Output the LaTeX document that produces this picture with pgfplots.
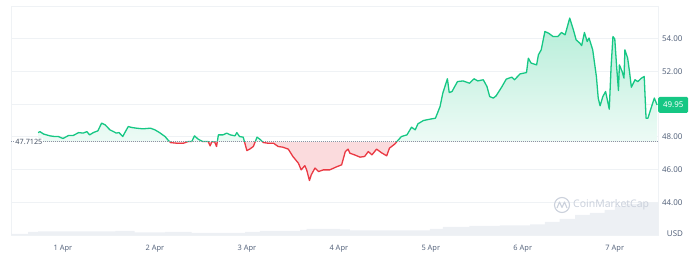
\documentclass[border=0pt]{standalone}
\usepackage{fontspec}
\setmainfont{Noto Sans}
\usepackage{pgfplots}
\usepackage{pgfplotstable}
\pgfplotsset{compat=1.18}
\definecolor{cmcgreen}{HTML}{16C784}
\definecolor{cmcred}{HTML}{EA3943}
\definecolor{labelgray}{HTML}{58667E}
\definecolor{gridgray}{HTML}{EFF2F5}
\definecolor{volgray}{HTML}{EDF0F4}
\definecolor{wmgray}{HTML}{CBD1DC}

\pgfplotstableread{
x y
0.73 48.26
0.75 48.32
0.79 48.17
0.86 48.06
0.91 48.02
0.95 48.02
1.00 47.90
1.06 48.08
1.11 48.08
1.17 48.26
1.22 48.23
1.26 48.32
1.29 48.12
1.33 48.26
1.38 48.37
1.42 48.84
1.46 48.73
1.51 48.43
1.55 48.32
1.58 48.23
1.61 48.26
1.65 48.02
1.67 48.23
1.71 48.63
1.75 48.57
1.80 48.53
1.87 48.49
1.95 48.53
2.00 48.43
2.05 48.26
2.11 48.02
2.14 47.82
2.17 47.65
2.24 47.61
2.31 47.61
2.36 47.71
2.40 47.71
2.43 48.06
2.47 47.86
2.52 47.71
2.58 47.71
2.60 47.45
2.62 47.71
2.65 47.68
2.67 47.41
2.69 48.12
2.74 48.12
2.78 48.23
2.82 48.12
2.87 48.06
2.89 48.26
2.92 48.02
2.96 47.98
3.00 47.16
3.03 47.25
3.07 47.41
3.11 47.98
3.14 47.86
3.18 47.65
3.23 47.61
3.29 47.61
3.34 47.41
3.39 47.37
3.45 47.25
3.50 46.80
3.56 46.39
3.59 45.98
3.63 46.24
3.65 45.98
3.68 45.33
3.70 45.68
3.74 46.09
3.78 45.88
3.83 45.98
3.90 45.98
3.98 46.18
4.03 46.29
4.07 47.10
4.10 47.25
4.12 47.00
4.17 46.90
4.23 46.76
4.28 46.80
4.32 47.10
4.36 46.90
4.41 47.25
4.46 47.04
4.52 46.84
4.55 47.31
4.61 47.57
4.64 47.77
4.68 48.02
4.74 48.12
4.79 48.59
4.83 48.43
4.86 48.80
4.92 49.00
4.99 49.08
5.05 49.14
5.10 49.85
5.13 50.67
5.18 51.55
5.20 50.71
5.23 50.77
5.26 51.08
5.29 51.38
5.35 51.42
5.42 51.28
5.47 51.55
5.51 51.42
5.57 51.49
5.61 51.08
5.64 50.46
5.68 50.37
5.71 50.51
5.77 51.04
5.82 51.53
5.88 51.65
5.91 51.49
5.97 51.85
6.04 51.93
6.06 52.81
6.09 52.51
6.15 52.40
6.17 53.02
6.20 53.32
6.24 54.44
6.28 54.34
6.33 54.13
6.38 54.13
6.42 54.38
6.46 54.24
6.51 55.26
6.55 54.54
6.58 53.93
6.62 53.73
6.64 53.58
6.67 54.38
6.70 53.83
6.72 54.04
6.76 53.32
6.80 51.69
6.82 50.37
6.84 49.90
6.87 50.46
6.90 50.77
6.94 49.69
6.96 52.30
6.98 54.13
7.00 53.98
7.02 52.30
7.04 50.83
7.05 52.40
7.08 51.99
7.10 51.59
7.11 53.32
7.14 52.81
7.16 51.99
7.18 51.04
7.22 51.49
7.25 51.38
7.29 51.59
7.32 51.69
7.34 49.14
7.36 49.14
7.40 49.85
7.43 50.37
7.46 49.95
}\price

\pgfplotstableread{
x v
0.435 1
0.62 3
0.73 3.5
1.57 4
1.78 2.5
2.11 3
2.40 2
2.65 2
2.98 3
3.14 4
3.58 5
3.65 6
4.01 5.5
4.12 4.5
4.45 4.5
4.99 6
5.13 8
5.42 9
5.75 9.5
6.08 10.5
6.24 13
6.40 16
6.57 20
6.73 22
6.89 25
7.00 29
7.11 31
7.27 32
7.47 32
}\volume

\begin{document}
\begin{tikzpicture}
\useasboundingbox (0,0) rectangle (700bp,264bp);
\pgfplotsset{base/.style={scale only axis, width=647bp, xmin=0.435, xmax=7.47, anchor=south west}}
% main axis: grid, ticks
\begin{axis}[base, at={(11bp,29bp)}, height=229bp, ymin=42, ymax=56,
  axis line style={draw=gridgray, line width=0.8bp},
  ytick={44,46,48,50,52,54}, yticklabels={44.00,46.00,48.00,{},52.00,54.00},
  ytick pos=right, yticklabel pos=right,
  xtick={1,2,3,4,5,6,7}, xticklabels={1 Apr,2 Apr,3 Apr,4 Apr,5 Apr,6 Apr,7 Apr},
  xtick pos=bottom,
  major tick length=0pt,
  ymajorgrids, grid style={draw=gridgray, line width=0.8bp},
  yticklabel style={font=\fontsize{8}{9}\selectfont, text=labelgray, xshift=0.5bp},
  xticklabel style={font=\fontsize{7.5}{9}\selectfont, text=labelgray, yshift=-6.5bp},
]
\end{axis}
% volume
\begin{axis}[base, at={(11bp,29bp)}, height=229bp, ymin=0, ymax=229, hide axis]
\addplot[const plot, fill=volgray, draw=none] table[x=x,y=v] {\volume} \closedcycle;
\end{axis}
% red part below baseline
\begin{axis}[base, at={(11bp,29bp)}, height=93.44bp, ymin=42, ymax=47.7125, hide axis]
\addplot[fill=cmcred!18, draw=none] table[x=x,y=y] {\price} -- (axis cs:7.46,47.7125) -- (axis cs:0.73,47.7125) -- cycle;
\addplot[cmcred, line width=1.3bp, line join=round] table[x=x,y=y] {\price};
\end{axis}
% green part above baseline
\begin{axis}[base, at={(11bp,122.44bp)}, height=135.56bp, ymin=47.7125, ymax=56, hide axis]
\addplot[top color=cmcgreen!32, bottom color=white, draw=none] table[x=x,y=y] {\price} -- (axis cs:7.46,47.7125) -- (axis cs:0.73,47.7125) -- cycle;
\addplot[cmcgreen, line width=1.3bp, line join=round] table[x=x,y=y] {\price};
\end{axis}
% overlay: baseline and labels
\begin{axis}[base, at={(11bp,29bp)}, height=229bp, ymin=42, ymax=56, hide axis, clip=false]
\addplot[labelgray!70, line width=0.6bp, dash pattern=on 0.6bp off 1.4bp] coordinates {(0.435,47.7125) (7.47,47.7125)};
\node[anchor=west, fill=white, inner sep=0.8bp, font=\fontsize{7.3}{8}\selectfont, text=labelgray!80!black] at (axis cs:0.473,47.7125) {47.7125};
\node[anchor=west, fill=cmcgreen, text=white, font=\bfseries\fontsize{8}{9}\selectfont, rounded corners=1.5bp, minimum width=30bp, minimum height=16bp, inner sep=0pt] at (axis cs:7.47,49.95) {49.95};
\end{axis}
\node[font=\bfseries\fontsize{8}{9}\selectfont, text=labelgray] at (675bp,30bp) {USD};
% watermark
\draw[wmgray, line width=1.1bp] (562bp,59bp) circle (7.5bp);
\draw[wmgray, line width=1.1bp, line join=round] (557bp,56bp) -- (559.5bp,62bp) -- (562bp,56.5bp) -- (564.5bp,62bp) -- (567bp,56bp);
\node[anchor=west, font=\fontsize{10.5}{12}\selectfont, text=wmgray, inner sep=0pt] at (573bp,59bp) {CoinMarketCap};
\end{tikzpicture}
\end{document}
